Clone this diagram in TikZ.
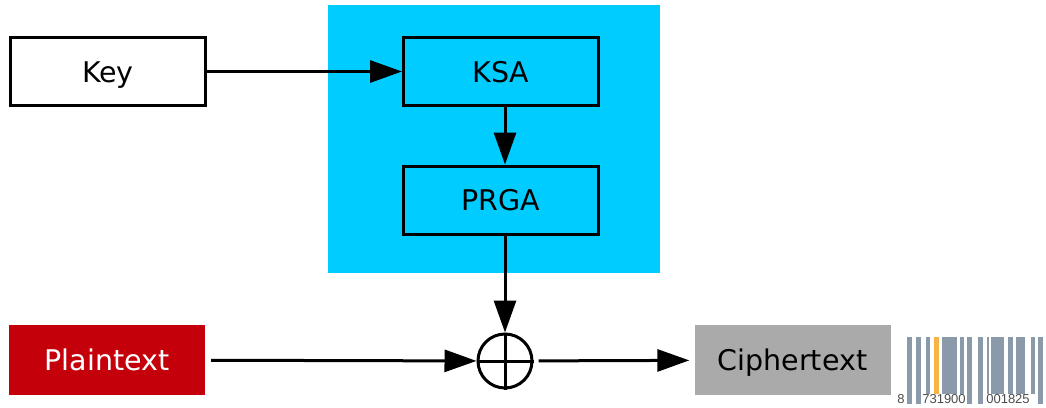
\documentclass[tikz,border=0pt]{standalone}
\usepackage{fontspec}
\setmainfont{DejaVu Sans}
\newfontfamily\barfont{Liberation Sans}
\usetikzlibrary{arrows.meta}

\definecolor{rcblue}{RGB}{0,204,255}
\definecolor{plainred}{RGB}{196,0,11}
\definecolor{ciphergray}{RGB}{170,170,170}
\definecolor{bargray}{RGB}{138,154,171}
\definecolor{barorange}{RGB}{247,179,67}

\tikzset{
  stagebox/.style={draw=black, line width=3pt, minimum width=195pt, minimum height=68pt,
    text height=21pt, text depth=0pt, font=\fontsize{28.5}{30}\selectfont},
  databox/.style={minimum width=196pt, minimum height=70pt,
    text height=21pt, text depth=0pt, font=\fontsize{28.5}{30}\selectfont},
  flow/.style={line width=3pt, -{Triangle[length=32pt,width=22pt]}}
}

\begin{document}
\begin{tikzpicture}[x=1pt,y=-1pt]
  \useasboundingbox (0,0) rectangle (1046,407);

  % RC4 cipher block
  \node[fill=rcblue, minimum width=332pt, minimum height=268pt] (rc4) at (494,139) {};

  % Key and the two stages
  \node[stagebox, fill=white] (key) at (108,71.5) {Key};
  \node[stagebox, fill=rcblue] (ksa) at (501,71.5) {KSA};
  \node[stagebox, fill=rcblue] (prga) at (501,200) {PRGA};

  % XOR
  \node[draw, circle, line width=3pt, minimum size=54pt, inner sep=0pt] (xor) at (505,361) {};
  \draw[line width=3pt] (xor.north) -- (xor.south);
  \draw[line width=3pt] (xor.west) -- (xor.east);

  % Plaintext and Ciphertext
  \node[databox, fill=plainred, text=white] (plain) at (107,360) {Plaintext};
  \node[databox, fill=ciphergray] (cipher) at (792.5,360) {Ciphertext};

  % Arrows
  \draw[flow] (key) -- (ksa);
  \draw[flow] (ksa.south -| xor) -- (prga.north -| xor);
  \draw[flow] (prga.south -| xor) -- (xor.north);
  \draw[flow, shorten <=6pt] (plain) -- (xor);
  \draw[flow, shorten <=5pt, shorten >=5pt] (xor) -- (cipher);

  % Barcode
  \foreach \a/\b/\c/\d in {907/912/bargray/404, 916/921/bargray/404, 926/930/bargray/394,
      934/939/barorange/394, 942/957/bargray/394, 960/964/bargray/394, 967/972/bargray/404,
      978/983/bargray/404, 986.5/989/bargray/394, 990.5/1004/bargray/394, 1008/1013/bargray/394,
      1016/1025/bargray/394, 1031/1035/bargray/394, 1038/1043/bargray/404} {
    \fill[\c] (\a,337) rectangle (\b,\d);
  }
  \node[font=\barfont\fontsize{13}{13}\selectfont, text=black!70, anchor=base, inner sep=0pt] (dig1) at (901,403) {8};
  \node[font=\barfont\fontsize{13}{13}\selectfont, text=black!70, anchor=base, inner sep=0pt] (dig2) at (944,403) {731900};
  \node[font=\barfont\fontsize{13}{13}\selectfont, text=black!70, anchor=base, inner sep=0pt] (dig3) at (1008,403) {001825};
\end{tikzpicture}
\end{document}
